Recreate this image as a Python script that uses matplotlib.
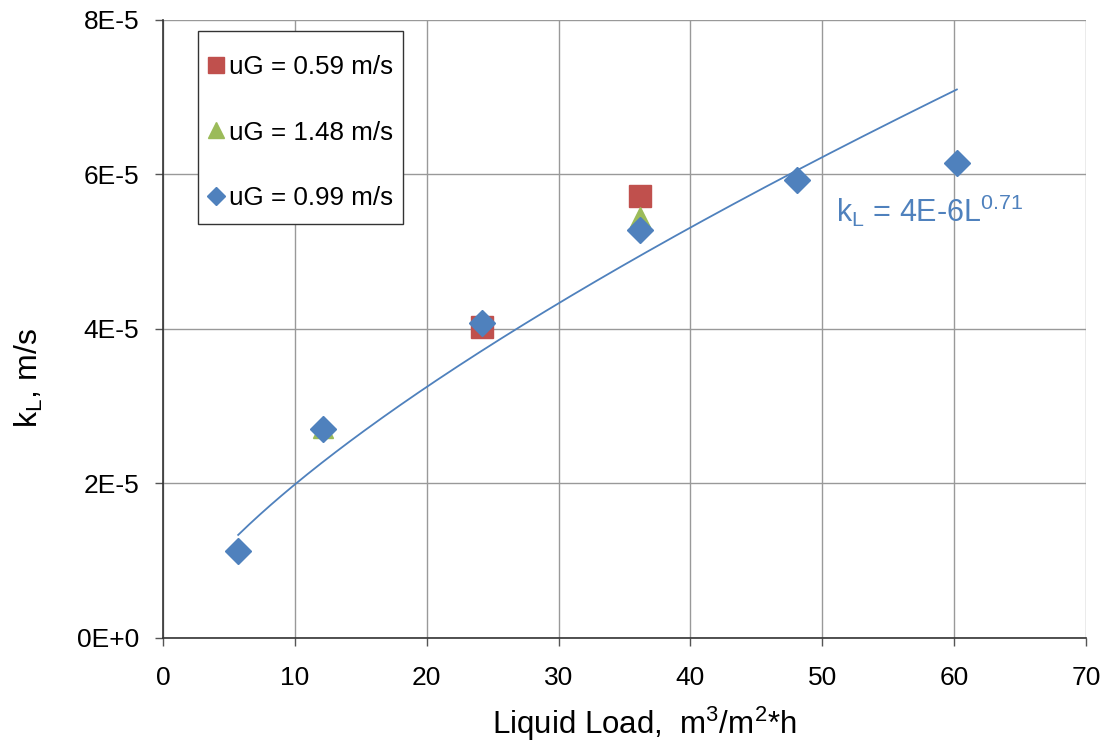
import numpy as np
import matplotlib
matplotlib.use('Agg')
import matplotlib.pyplot as plt
from matplotlib.patches import Rectangle

# data
L_059 = [24.2, 36.2]
kL_059 = [4.02e-5, 5.72e-5]

L_148 = [12.1, 36.2]
kL_148 = [2.72e-5, 5.45e-5]

L_099 = [5.7, 12.1, 24.2, 36.2, 48.1, 60.2]
kL_099 = [1.13e-5, 2.71e-5, 4.08e-5, 5.28e-5, 5.93e-5, 6.15e-5]

xticks = [0, 10, 20, 30, 40, 50, 60, 70]
yticks = [0, 2e-5, 4e-5, 6e-5, 8e-5]
ytick_labels = ['0E+0', '2E-5', '4E-5', '6E-5', '8E-5']

red = '#C0504D'
green = '#9BBB59'
blue = '#4F81BD'

plt.rcParams['font.family'] = ['Liberation Sans', 'DejaVu Sans']
plt.rcParams['mathtext.fontset'] = 'custom'
plt.rcParams['mathtext.rm'] = 'Liberation Sans'

fig = plt.figure(figsize=(11.06, 7.49), dpi=100)
fig.patch.set_facecolor('w')
ax = fig.add_axes([0.1474, 0.1482, 0.982 - 0.1474, 0.9733 - 0.1482])

# power-law trendline fitted to the uG = 0.99 m/s series (as in the spreadsheet)
b, ln_a = np.polyfit(np.log(L_099), np.log(kL_099), 1)
xfit = np.linspace(min(L_099), max(L_099), 200)
ax.plot(xfit, np.exp(ln_a) * xfit**b, '-', color=blue, lw=1.3, zorder=3)

ax.plot(L_059, kL_059, 's', color=red, ms=16.5, ls='none', label='uG = 0.59 m/s', zorder=4)
ax.plot(L_148, kL_148, '^', color=green, ms=14, ls='none', label='uG = 1.48 m/s', zorder=5)
ax.plot(L_099, kL_099, 'D', color=blue, ms=13, ls='none', label='uG = 0.99 m/s', zorder=6)

ax.set_xlim(0, 70)
ax.set_ylim(0, 8e-5)
ax.set_xticks(xticks)
ax.set_yticks(yticks)
ax.set_yticklabels(ytick_labels)
ax.tick_params(axis='both', labelsize=19, direction='out', length=6, width=1, color='#555555')
ax.tick_params(axis='x', pad=14)
ax.tick_params(axis='y', pad=11)

ax.grid(True, color='#999999', lw=1)
ax.set_axisbelow(True)
for side in ['top', 'right']:
    ax.spines[side].set_visible(False)
for side in ['left', 'bottom']:
    ax.spines[side].set_color('#333333')
    ax.spines[side].set_linewidth(1.2)

ax.set_xlabel('Liquid Load,  m$^\\mathregular{3}$/m$^\\mathregular{2}$*h', fontsize=22.5)
ax.xaxis.set_label_coords(0.521, -0.108)
ax.set_ylabel('k$_\\mathregular{L}$, m/s', fontsize=23)
ax.yaxis.set_label_coords(-0.128, 0.42)

ax.text(51.0, 5.385e-5, 'k$_\\mathregular{L}$ = 4E-6L$^\\mathregular{0.71}$', color=blue,
        fontsize=22, va='baseline', ha='left')

# legend box (Excel style, more room above/below than at the sides)
ax.add_patch(Rectangle((0.0379, 0.670), 0.2221, 0.312, transform=ax.transAxes,
                       facecolor='w', edgecolor='#333333', lw=1.0, zorder=2.5))
leg = ax.legend(loc='upper left', bbox_to_anchor=(0.0353, 0.964), borderaxespad=0,
                fontsize=18.7, frameon=False, labelspacing=1.59, handletextpad=0.2,
                handlelength=0.6, borderpad=0.5)
for h, ms in zip(leg.legend_handles, [11.5, 11.5, 9.2]):
    h.set_markersize(ms)

fig.savefig('out.png', dpi=100)
